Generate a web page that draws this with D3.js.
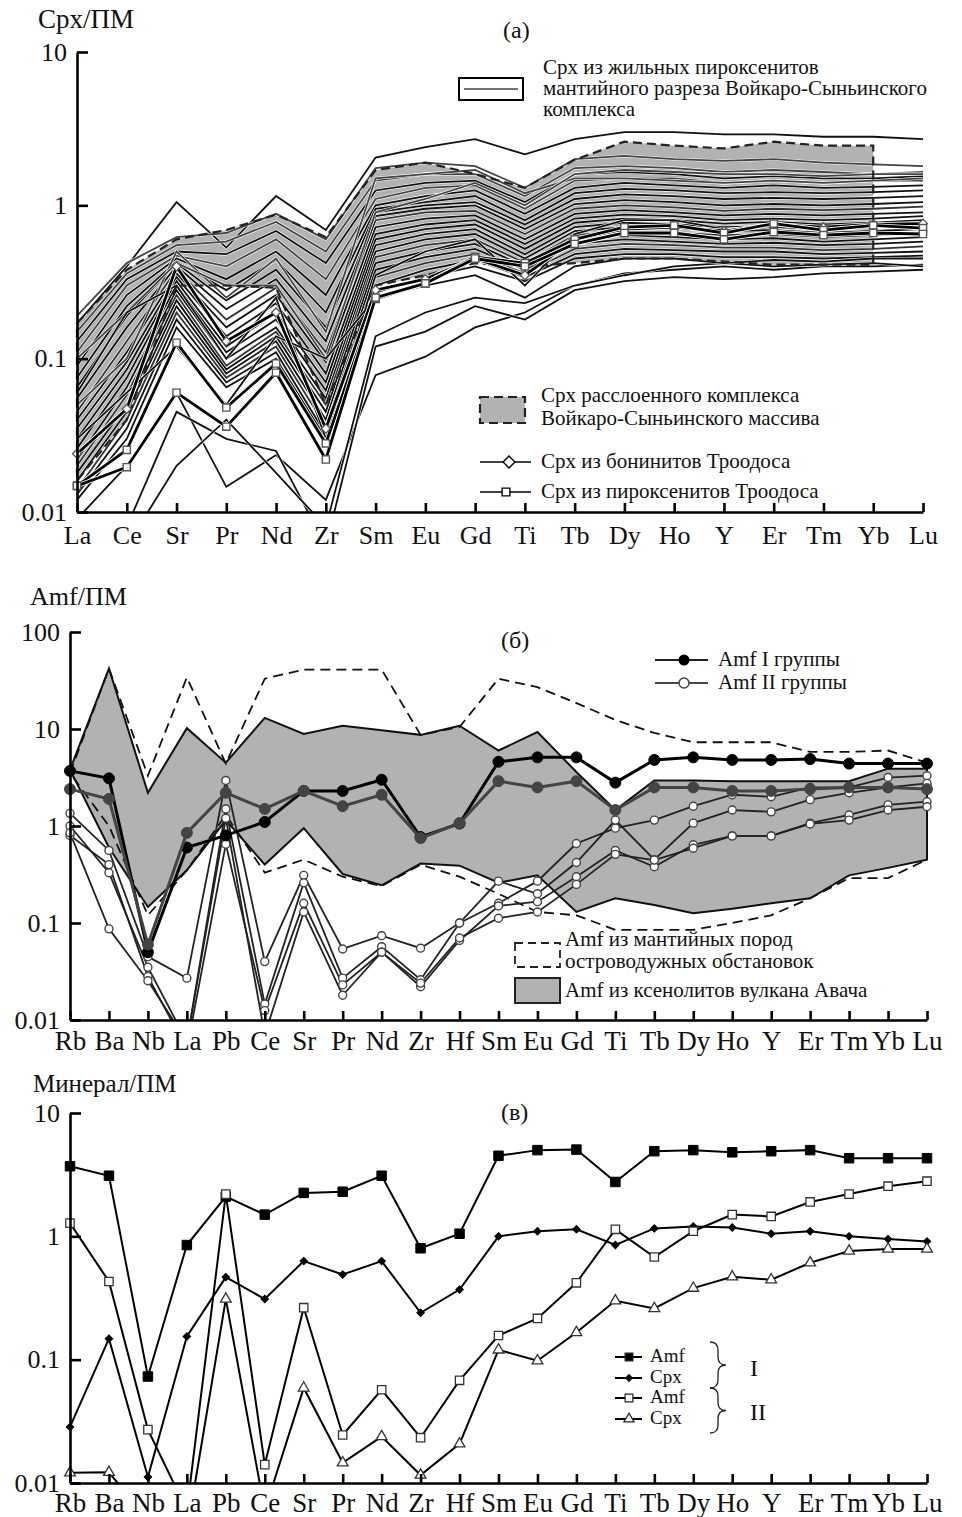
<!DOCTYPE html>
<html lang="ru">
<head>
<meta charset="UTF-8">
<title>Cpx / Amf spider diagrams</title>
<script src="https://cdnjs.cloudflare.com/ajax/libs/d3/7.8.5/d3.min.js"></script>
<style>
  * { margin: 0; padding: 0; }
  html, body { background: #fff; }
  svg text { font-family: "Liberation Serif", "Times New Roman", serif; fill: #111; }
</style>
</head>
<body>
<svg id="chart" width="962" height="1517"></svg>
<script>
// ---------- categories ----------
const catsA = ['La','Ce','Sr','Pr','Nd','Zr','Sm','Eu','Gd','Ti','Tb','Dy','Ho','Y','Er','Tm','Yb','Lu'];
const catsB = ['Rb','Ba','Nb','La','Pb','Ce','Sr','Pr','Nd','Zr','Hf','Sm','Eu','Gd','Ti','Tb','Dy','Ho','Y','Er','Tm','Yb','Lu'];

// ---------- panel (a) ----------
// field of Cpx from the layered complex (La..Yb)
const fieldAUpper = [0.17,0.38,0.6,0.69,0.87,0.62,1.7,1.9,1.6,1.3,1.98,2.6,2.45,2.35,2.6,2.45,2.45,null];
const fieldALower = [0.016,0.04,0.3,0.3,0.29,0.05,0.3,0.35,0.42,0.4,0.42,0.45,0.45,0.43,0.41,0.41,0.41,null];
// Cpx from vein pyroxenites (thin lines)
const veinLines = [
  [0.17,0.40,1.05,0.53,1.15,0.69,2.05,2.4,2.7,2.15,2.7,3.0,3.0,2.9,2.9,2.8,2.8,2.7],
  [0.19,0.42,0.62,0.66,0.88,0.6,1.75,1.9,1.8,1.3,2.0,2.1,2.0,1.95,2.0,1.9,1.85,1.8],
  [0.15,0.36,0.55,0.58,0.78,0.5,1.45,1.6,1.6,1.15,1.75,1.8,1.75,1.65,1.7,1.65,1.6,1.65],
  [0.13,0.33,0.5,0.48,0.68,0.42,1.25,1.4,1.45,1.05,1.6,1.65,1.6,1.5,1.55,1.5,1.5,1.55],
  [0.11,0.3,0.47,0.4,0.6,0.33,1.1,1.3,1.35,0.95,1.45,1.5,1.5,1.4,1.45,1.4,1.45,1.45],
  [0.09,0.26,0.45,0.33,0.5,0.26,1.0,1.15,1.25,0.88,1.3,1.4,1.35,1.3,1.35,1.3,1.32,1.35],
  [0.075,0.22,0.43,0.28,0.44,0.2,0.95,1.05,1.15,0.8,1.2,1.28,1.25,1.2,1.22,1.2,1.22,1.25],
  [0.065,0.19,0.42,0.24,0.38,0.16,0.9,1.0,1.05,0.75,1.1,1.18,1.15,1.1,1.12,1.1,1.12,1.15],
  [0.055,0.16,0.4,0.21,0.33,0.13,0.85,0.95,1.0,0.7,1.02,1.08,1.05,1.0,1.02,1.0,1.02,1.05],
  [0.045,0.13,0.38,0.18,0.29,0.11,0.8,0.9,0.92,0.65,0.95,1.0,0.97,0.92,0.95,0.93,0.95,0.98],
  [0.04,0.11,0.36,0.16,0.26,0.095,0.72,0.82,0.86,0.6,0.88,0.93,0.9,0.86,0.88,0.86,0.88,0.9],
  [0.035,0.095,0.34,0.14,0.23,0.08,0.65,0.75,0.8,0.56,0.82,0.87,0.85,0.8,0.82,0.8,0.82,0.85],
  [0.03,0.085,0.32,0.12,0.2,0.07,0.6,0.7,0.75,0.52,0.77,0.82,0.8,0.76,0.78,0.75,0.77,0.8],
  [0.026,0.075,0.3,0.11,0.18,0.062,0.55,0.65,0.7,0.48,0.72,0.77,0.75,0.72,0.73,0.7,0.72,0.75],
  [0.022,0.065,0.28,0.1,0.16,0.055,0.5,0.6,0.65,0.45,0.68,0.72,0.7,0.68,0.69,0.66,0.68,0.7],
  [0.02,0.058,0.26,0.09,0.15,0.05,0.46,0.55,0.6,0.42,0.64,0.68,0.66,0.64,0.65,0.62,0.64,0.66],
  [0.018,0.05,0.24,0.085,0.14,0.045,0.42,0.5,0.56,0.4,0.6,0.64,0.62,0.6,0.61,0.58,0.6,0.62],
  [0.016,0.045,0.22,0.08,0.13,0.04,0.38,0.46,0.52,0.38,0.56,0.6,0.58,0.56,0.57,0.55,0.56,0.58],
  [0.014,0.04,0.2,0.075,0.12,0.036,0.34,0.42,0.48,0.36,0.52,0.56,0.55,0.53,0.53,0.51,0.52,0.54],
  [0.013,0.035,0.18,0.07,0.11,0.032,0.3,0.38,0.44,0.34,0.48,0.52,0.51,0.5,0.5,0.48,0.49,0.5],
  [0.012,0.03,0.16,0.065,0.1,0.03,0.27,0.34,0.4,0.32,0.45,0.48,0.48,0.46,0.46,0.45,0.46,0.47],
  [0.009,0.02,0.06,0.0146,0.0235,0.012,0.078,0.103,0.16,0.2,0.3,0.36,0.38,0.4,0.38,0.4,0.4,0.41],
  [0.004,0.008,0.045,0.03,0.025,0.006,0.12,0.15,0.22,0.18,0.28,0.32,0.34,0.33,0.34,0.36,0.37,0.38],
  [0.004,0.006,0.02,0.04,0.018,0.008,0.14,0.2,0.25,0.23,0.3,0.35,0.4,0.42,0.4,0.41,0.42,0.4],
  [0.05,0.1,0.5,0.25,0.45,0.15,1.5,1.6,1.7,1.2,1.5,1.5,1.45,1.4,1.45,1.4,1.45,1.5],
  [0.1,0.2,0.42,0.3,0.3,0.1,0.9,1.1,1.4,1.0,1.6,1.7,1.65,1.6,1.6,1.55,1.6,1.6],
  [0.06,0.2,0.3,0.1,0.25,0.03,0.35,0.5,0.6,0.3,0.65,0.8,0.8,0.7,0.72,0.7,0.72,0.75],
  [0.03,0.06,0.12,0.05,0.14,0.1,0.25,0.3,0.35,0.25,0.4,0.45,0.45,0.42,0.44,0.43,0.45,0.45]
];
const veinTone = ['#111','#444','#444','#111','#444','#111','#111','#111','#111','#333','#111','#111','#111','#111','#111','#333','#111','#111','#333','#111','#111','#111','#111','#111','#444','#444','#111','#111'];
// Troodos
const troodosBoninite = [0.024,0.047,0.40,0.13,0.2,0.035,0.28,0.33,0.45,0.35,0.6,0.7,0.72,0.68,0.75,0.72,0.75,0.76];
const troodosPyrox1 = [0.0148,0.0254,0.127,0.048,0.093,0.028,0.245,0.31,0.46,0.42,0.6,0.72,0.74,0.66,0.76,0.69,0.74,0.71];
const troodosPyrox2 = [0.0148,0.0196,0.060,0.036,0.081,0.022,0.25,0.31,0.45,0.40,0.56,0.66,0.66,0.6,0.67,0.64,0.66,0.65];

// ---------- panel (б) ----------
const avachaUpper = [3.8,42,2.2,10.2,4.5,13,8.9,10.8,9.7,8.7,10.8,6.0,9.3,3.6,1.46,2.95,2.95,2.9,2.9,2.9,2.9,3.9,3.9];
const avachaLower = [3.8,0.6,0.146,0.35,1.15,0.4,0.95,0.32,0.245,0.41,0.39,0.26,0.31,0.13,0.18,0.153,0.126,0.14,0.16,0.18,0.31,0.37,0.45];
const arcUpper = [3.5,42,3.3,34,4.4,33,41,41,41,8.7,10.5,33,27,18.5,12.4,9.1,7.3,7.3,7.3,5.8,5.8,6.0,4.5];
const arcLower = [3.5,1.0,0.12,0.35,1.3,0.33,0.45,0.3,0.24,0.4,0.3,0.2,0.13,0.12,0.085,0.085,0.085,0.1,0.12,0.18,0.29,0.29,0.45];
const amfGroup1 = [
  [3.7,3.1,0.05,0.6,0.8,1.1,2.3,2.3,3.0,0.77,1.06,4.6,5.1,5.1,2.8,4.8,5.1,4.8,4.8,4.9,4.4,4.4,4.4],
  [2.4,1.9,0.06,0.85,2.2,1.5,2.3,1.6,2.1,0.75,1.07,2.9,2.5,2.9,1.46,2.5,2.5,2.3,2.3,2.4,2.5,2.5,2.4]
];
const amfGroup2 = [
  [1.35,0.56,0.045,0.027,2.95,0.04,0.31,0.054,0.074,0.055,0.1,0.16,0.27,0.66,0.95,1.15,1.6,2.1,2.0,2.5,2.5,3.16,3.3],
  [1.0,0.33,0.035,0.006,1.5,0.0146,0.26,0.027,0.057,0.026,0.1,0.27,0.2,0.42,1.15,0.45,1.07,1.46,1.4,1.87,2.2,2.5,2.75],
  [0.8,0.4,0.028,0.005,0.65,0.0125,0.16,0.023,0.05,0.022,0.066,0.15,0.166,0.3,0.56,0.38,0.64,0.79,0.79,1.07,1.3,1.65,1.78],
  [0.85,0.087,0.0254,0.006,1.2,0.007,0.13,0.018,0.05,0.024,0.07,0.112,0.13,0.25,0.51,0.445,0.59,0.79,0.79,1.05,1.15,1.46,1.58]
];

// ---------- panel (в) ----------
const amfI  = [3.7,3.1,0.073,0.85,2.1,1.5,2.25,2.3,3.1,0.8,1.05,4.5,5.0,5.05,2.76,4.9,5.0,4.8,4.9,5.0,4.3,4.3,4.3];
const cpxI  = [0.0285,0.148,0.0112,0.154,0.467,0.31,0.63,0.49,0.63,0.24,0.37,1.0,1.1,1.14,0.85,1.16,1.2,1.18,1.05,1.1,1.0,0.95,0.91];
const amfII = [1.28,0.43,0.0271,0.006,2.2,0.0141,0.264,0.0245,0.057,0.0233,0.068,0.157,0.216,0.42,1.14,0.68,1.1,1.5,1.45,1.9,2.2,2.55,2.8];
const cpxII = [0.0121,0.0122,0.005,0.004,0.31,0.006,0.059,0.0146,0.0238,0.0116,0.0208,0.12,0.098,0.166,0.30,0.26,0.38,0.47,0.445,0.61,0.76,0.79,0.79];

// ---------- drawing ----------
const svg = d3.select('#chart');
const fontFam = '"Liberation Serif","Times New Roman",serif';

function makePanel(id, cats, x0, x1, dom, yb, yt) {
  const x = d3.scalePoint().domain(cats).range([x0, x1]);
  const y = d3.scaleLog().domain(dom).range([yb, yt]);
  const g = svg.append('g').attr('class', 'panel-' + id);
  svg.append('clipPath').attr('id', 'clip' + id).append('rect')
    .attr('x', x0 - 12).attr('y', yt - 8).attr('width', x1 - x0 + 24).attr('height', yb - yt + 8);
  const plot = g.append('g').attr('clip-path', `url(#clip${id})`);
  return {x, y, g, plot, cats, x0, x1, yb, yt};
}

function drawAxes(p, yticks, xpad, xfs) {
  const ax = p.g.append('g').attr('transform', `translate(0,${p.yb})`)
    .call(d3.axisBottom(p.x).tickSize(-9).tickSizeOuter(0).tickPadding(xpad));
  const ay = p.g.append('g').attr('transform', `translate(${p.x0},0)`)
    .call(d3.axisLeft(p.y).tickValues(yticks).tickFormat(d3.format('~g')).tickSize(-11).tickSizeOuter(0).tickPadding(10));
  [ax, ay].forEach(a => {
    a.selectAll('path,line').attr('stroke', '#000').attr('stroke-width', 2.6);
    a.selectAll('text').attr('font-family', fontFam).attr('font-size', 26).attr('fill', '#111');
  });
  ax.selectAll('text').attr('font-size', xfs);
}

const lineOf = p => d3.line().defined(d => d != null).x((d, i) => p.x(p.cats[i])).y(d => p.y(d));

function fieldPath(p, upper, lower) {
  const pts = [];
  upper.forEach((v, i) => { if (v != null) pts.push([p.x(p.cats[i]), p.y(v)]); });
  for (let i = lower.length - 1; i >= 0; i--) if (lower[i] != null) pts.push([p.x(p.cats[i]), p.y(lower[i])]);
  return 'M' + pts.map(d => d.join(',')).join('L') + 'Z';
}

function markers(p, vals, type, size, fill, stroke, sw, rot) {
  const sym = d3.symbol().type(type).size(size);
  p.plot.append('g').selectAll('path').data(vals.map((v, i) => [i, v]).filter(d => d[1] != null)).join('path')
    .attr('d', sym)
    .attr('transform', d => `translate(${p.x(p.cats[d[0]])},${p.y(d[1])})` + (rot ? ` rotate(${rot})` : ''))
    .attr('fill', fill).attr('stroke', stroke).attr('stroke-width', sw);
}

function txt(x, y, s, size, anchor) {
  return svg.append('text').attr('x', x).attr('y', y).attr('font-size', size)
    .attr('text-anchor', anchor || 'start').attr('font-family', fontFam).text(s);
}

// ===== panel (a) =====
const pa = makePanel('a', catsA, 77, 923, [0.01, 10], 512, 52);
pa.plot.append('path').attr('d', fieldPath(pa, fieldAUpper, fieldALower)).attr('fill', '#b2b2b2').attr('stroke', 'none');
const la = lineOf(pa);
veinLines.forEach((v, k) => {
  pa.plot.append('path').attr('d', la(v)).attr('fill', 'none').attr('stroke', '#fff').attr('stroke-width', 2.9);
  pa.plot.append('path').attr('d', la(v)).attr('fill', 'none').attr('stroke', veinTone[k]).attr('stroke-width', 1.8);
});
pa.plot.append('path').attr('d', fieldPath(pa, fieldAUpper, fieldALower)).attr('fill', 'none')
  .attr('stroke', '#222').attr('stroke-width', 2.2).attr('stroke-dasharray', '9,5');
[troodosBoninite, troodosPyrox1, troodosPyrox2].forEach(v => {
  pa.plot.append('path').attr('d', la(v)).attr('fill', 'none').attr('stroke', '#fff').attr('stroke-width', 4.5);
  pa.plot.append('path').attr('d', la(v)).attr('fill', 'none').attr('stroke', '#000').attr('stroke-width', 2.8);
});
markers(pa, troodosBoninite, d3.symbolSquare, 40, '#fff', '#555', 1.3, 45);
markers(pa, troodosPyrox1, d3.symbolSquare, 52, '#fff', '#555', 1.4);
markers(pa, troodosPyrox2, d3.symbolSquare, 52, '#fff', '#555', 1.4);
drawAxes(pa, [0.01, 0.1, 1, 10], 14, 26);

txt(38, 28, 'Срх/ПМ', 27);
txt(503, 38, '(а)', 24);
// legend 1
svg.append('rect').attr('x', 459).attr('y', 78).attr('width', 64).attr('height', 22).attr('fill', '#fff').attr('stroke', '#000').attr('stroke-width', 2);
svg.append('line').attr('x1', 464).attr('x2', 518).attr('y1', 89).attr('y2', 89).attr('stroke', '#444').attr('stroke-width', 1.4);
txt(543, 74, 'Срх из жильных пироксенитов', 21);
txt(543, 95, 'мантийного разреза Войкаро-Сыньинского', 21);
txt(543, 116, 'комплекса', 21);
// legend 2
svg.append('rect').attr('x', 480).attr('y', 397).attr('width', 45).attr('height', 26).attr('fill', '#b2b2b2').attr('stroke', '#222').attr('stroke-width', 2.2).attr('stroke-dasharray', '9,5');
txt(541, 402, 'Срх расслоенного комплекса', 21);
txt(541, 425, 'Войкаро-Сыньинского массива', 21);
svg.append('line').attr('x1', 480).attr('x2', 531).attr('y1', 462).attr('y2', 462).attr('stroke', '#000').attr('stroke-width', 1.6);
svg.append('path').attr('d', d3.symbol().type(d3.symbolSquare).size(70)).attr('transform', 'translate(509,462) rotate(45)').attr('fill', '#fff').attr('stroke', '#000').attr('stroke-width', 1.4);
txt(541, 468, 'Срх из бонинитов Троодоса', 21);
svg.append('line').attr('x1', 480).attr('x2', 531).attr('y1', 492).attr('y2', 492).attr('stroke', '#000').attr('stroke-width', 1.6);
svg.append('path').attr('d', d3.symbol().type(d3.symbolSquare).size(60)).attr('transform', 'translate(506,492)').attr('fill', '#fff').attr('stroke', '#000').attr('stroke-width', 1.4);
txt(541, 498, 'Срх из пироксенитов Троодоса', 21);

// ===== panel (б) =====
const pb = makePanel('b', catsB, 70, 927, [0.01, 100], 1020, 632);
const lb = lineOf(pb);
pb.plot.append('path').attr('d', fieldPath(pb, avachaUpper, avachaLower)).attr('fill', '#b2b2b2').attr('stroke', 'none');
pb.plot.append('path').attr('d', fieldPath(pb, arcUpper, arcLower)).attr('fill', 'none')
  .attr('stroke', '#111').attr('stroke-width', 1.8).attr('stroke-dasharray', '10,6');
pb.plot.append('path').attr('d', fieldPath(pb, avachaUpper, avachaLower)).attr('fill', 'none').attr('stroke', '#111').attr('stroke-width', 2);
amfGroup2.forEach(v => {
  pb.plot.append('path').attr('d', lb(v)).attr('fill', 'none').attr('stroke', '#222').attr('stroke-width', 1.8);
});
amfGroup2.forEach(v => markers(pb, v, d3.symbolCircle, 50, '#fff', '#444', 1.4));
amfGroup1.forEach((v, k) => {
  const c = k === 0 ? '#000' : '#444';
  pb.plot.append('path').attr('d', lb(v)).attr('fill', 'none').attr('stroke', c).attr('stroke-width', 3);
  markers(pb, v, d3.symbolCircle, 95, c, c, 1);
});
drawAxes(pb, [0.01, 0.1, 1, 10, 100], 11, 27);

txt(30, 605, 'Amf/ПМ', 26);
txt(501, 648, '(б)', 24);
svg.append('line').attr('x1', 655).attr('x2', 708).attr('y1', 660).attr('y2', 660).attr('stroke', '#222').attr('stroke-width', 2);
svg.append('circle').attr('cx', 684).attr('cy', 660).attr('r', 5.5).attr('fill', '#000');
txt(718, 666, 'Amf I группы', 21);
svg.append('line').attr('x1', 655).attr('x2', 708).attr('y1', 683).attr('y2', 683).attr('stroke', '#444').attr('stroke-width', 2);
svg.append('circle').attr('cx', 684).attr('cy', 683).attr('r', 5).attr('fill', '#fff').attr('stroke', '#444').attr('stroke-width', 1.5);
txt(718, 689, 'Amf II группы', 21);
svg.append('rect').attr('x', 515).attr('y', 943).attr('width', 45).attr('height', 24).attr('fill', '#fff').attr('stroke', '#222').attr('stroke-width', 1.8).attr('stroke-dasharray', '8,5');
txt(565, 946, 'Amf из мантийных пород', 21);
txt(565, 968, 'островодужных обстановок', 21);
svg.append('rect').attr('x', 515).attr('y', 978).attr('width', 45).attr('height', 25).attr('fill', '#b2b2b2').attr('stroke', '#222').attr('stroke-width', 2);
txt(565, 997, 'Amf из ксенолитов вулкана Авача', 21);

// ===== panel (в) =====
const pc = makePanel('c', catsB, 70, 927, [0.01, 10], 1483, 1113);
const lc = lineOf(pc);
[amfI, cpxI, amfII, cpxII].forEach(v => {
  pc.plot.append('path').attr('d', lc(v)).attr('fill', 'none').attr('stroke', '#000').attr('stroke-width', 2);
});
markers(pc, amfI, d3.symbolSquare, 90, '#000', '#000', 1);
markers(pc, cpxI, d3.symbolSquare, 28, '#000', '#000', 1, 45);
markers(pc, amfII, d3.symbolSquare, 70, '#fff', '#333', 1.3);
markers(pc, cpxII, d3.symbolTriangle, 50, '#fff', '#333', 1.3);
drawAxes(pc, [0.01, 0.1, 1, 10], 10, 27);

txt(33, 1092, 'Минерал/ПМ', 25);
txt(501, 1120, '(в)', 24);
const legC = [
  {y: 1357, sym: d3.symbolSquare, size: 60, fill: '#000', rot: 0, label: 'Amf'},
  {y: 1378, sym: d3.symbolSquare, size: 24, fill: '#000', rot: 45, label: 'Cpx'},
  {y: 1398, sym: d3.symbolSquare, size: 60, fill: '#fff', rot: 0, label: 'Amf'},
  {y: 1419, sym: d3.symbolTriangle, size: 45, fill: '#fff', rot: 0, label: 'Cpx'}
];
legC.forEach(d => {
  svg.append('line').attr('x1', 615).attr('x2', 642).attr('y1', d.y).attr('y2', d.y).attr('stroke', '#000').attr('stroke-width', 2);
  svg.append('path').attr('d', d3.symbol().type(d.sym).size(d.size))
    .attr('transform', `translate(629,${d.y}) rotate(${d.rot})`).attr('fill', d.fill).attr('stroke', '#222').attr('stroke-width', 1.2);
  txt(650, d.y + 5, d.label, 19);
});
function brace(x, y1, y2) {
  const h = y2 - y1, m = y1 + h / 2, w = 8;
  return `M${x},${y1} q${w},0 ${w},${w} V${m - w} q0,${w} ${w},${w} q-${w},0 -${w},${w} V${y2 - w} q0,${w} -${w},${w}`;
}
svg.append('path').attr('d', brace(710, 1342, 1388)).attr('fill', 'none').attr('stroke', '#222').attr('stroke-width', 1.3);
svg.append('path').attr('d', brace(710, 1388, 1433)).attr('fill', 'none').attr('stroke', '#222').attr('stroke-width', 1.3);
txt(750, 1376, 'I', 24);
txt(750, 1420, 'II', 24);
</script>
</body>
</html>
